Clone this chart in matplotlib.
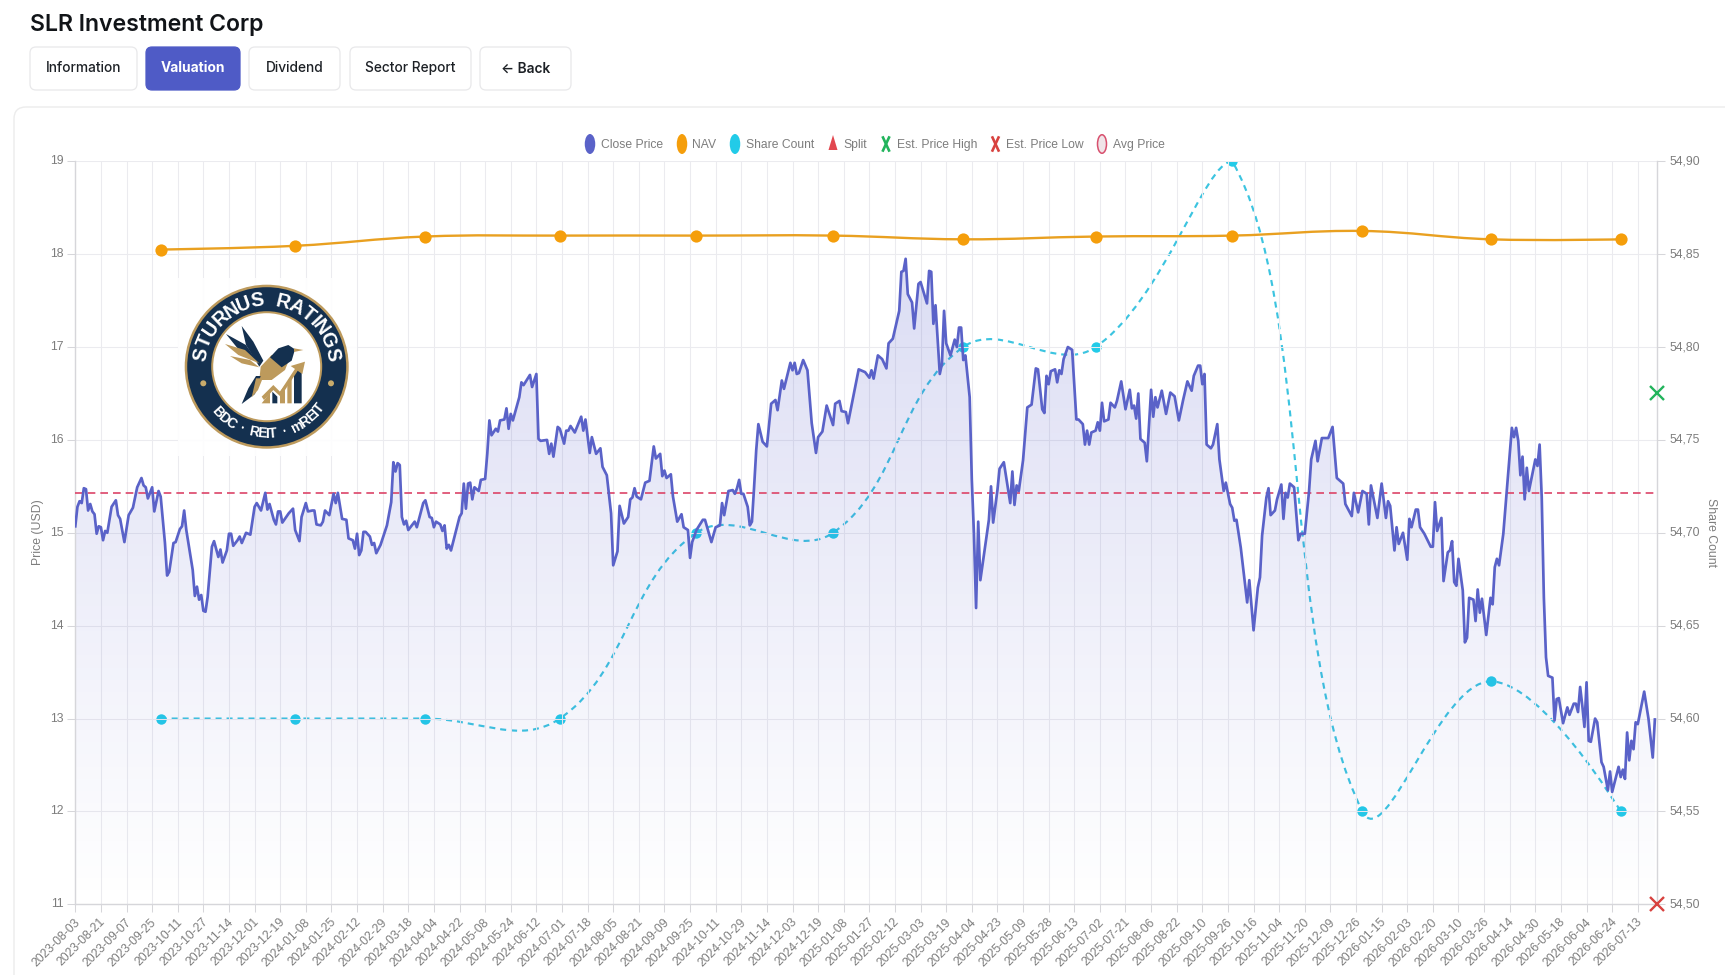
import matplotlib
matplotlib.use("Agg")
import matplotlib.pyplot as plt
import numpy as np
from matplotlib.patches import Circle, Ellipse, FancyBboxPatch, PathPatch, Polygon, Rectangle
from matplotlib.path import Path
from matplotlib.textpath import TextPath
from matplotlib.font_manager import FontProperties
from matplotlib.transforms import ScaledTranslation

# --- Data ---
tick_labels = [
    "2023-08-03", "2023-08-21", "2023-09-07", "2023-09-25", "2023-10-11", "2023-10-27", "2023-11-14",
    "2023-12-01", "2023-12-19", "2024-01-08", "2024-01-25", "2024-02-12", "2024-02-29", "2024-03-18",
    "2024-04-04", "2024-04-22", "2024-05-08", "2024-05-24", "2024-06-12", "2024-07-01", "2024-07-18",
    "2024-08-05", "2024-08-21", "2024-09-09", "2024-09-25", "2024-10-11", "2024-10-29", "2024-11-14",
    "2024-12-03", "2024-12-19", "2025-01-08", "2025-01-27", "2025-02-12", "2025-03-03", "2025-03-19",
    "2025-04-04", "2025-04-23", "2025-05-09", "2025-05-28", "2025-06-13", "2025-07-02", "2025-07-21",
    "2025-08-06", "2025-08-22", "2025-09-10", "2025-09-26", "2025-10-16", "2025-11-04", "2025-11-20",
    "2025-12-09", "2025-12-26", "2026-01-15", "2026-02-03", "2026-02-20", "2026-03-10", "2026-03-26",
    "2026-04-14", "2026-04-30", "2026-05-18", "2026-06-04", "2026-06-24", "2026-07-13",
]
sessions_per_tick = 12
last_session = 741

# close price as (session, value) pairs
close_a = [
    (0, 15.07), (1, 15.28), (2, 15.34), (3, 15.32), (4, 15.48), (5, 15.47), (6, 15.24), (7, 15.31), (8, 15.23),
    (9, 15.20), (10, 14.99), (11, 15.07), (12, 15.06), (13, 14.92), (14, 15.02), (15, 15.00), (17, 15.28),
    (19, 15.35), (20, 15.19), (21, 15.15), (23, 14.90), (25, 15.19), (27, 15.27), (29, 15.49), (31, 15.59),
    (32, 15.51), (33, 15.49), (34, 15.37), (36, 15.49), (37, 15.23), (39, 15.45), (40, 15.39), (42, 14.89),
    (43, 14.54), (44, 14.58), (46, 14.89), (47, 14.90), (49, 15.04), (50, 15.07), (51, 15.24), (52, 15.03),
    (55, 14.60), (56, 14.32), (57, 14.42), (58, 14.28), (59, 14.33), (60, 14.16), (61, 14.15), (62, 14.31),
    (64, 14.85), (65, 14.91), (67, 14.74), (68, 14.82), (69, 14.68), (71, 14.81), (72, 14.99), (73, 14.99),
    (74, 14.86), (76, 14.92), (77, 14.96), (78, 14.89), (80, 15.00), (82, 14.98), (84, 15.28), (85, 15.32),
    (87, 15.24), (89, 15.43), (90, 15.25), (91, 15.31), (93, 15.14), (94, 15.09), (95, 15.23), (96, 15.23),
    (97, 15.11), (100, 15.21), (102, 15.26), (103, 15.03), (105, 14.91), (106, 15.17), (108, 15.32), (109, 15.23),
    (111, 15.24), (112, 15.24), (113, 15.09), (115, 15.08), (116, 15.12), (117, 15.24), (119, 15.19), (121, 15.42),
    (122, 15.32), (123, 15.43), (125, 15.15), (127, 15.14), (128, 14.94), (130, 14.92), (131, 14.83), (132, 14.99),
    (133, 14.76), (134, 14.81), (135, 15.01), (136, 15.01), (138, 14.96), (139, 14.87), (140, 14.89), (141, 14.78),
    (143, 14.87), (146, 15.08), (148, 15.33), (149, 15.76), (150, 15.66), (151, 15.75), (152, 15.73), (153, 15.17),
    (154, 15.09), (155, 15.13), (156, 15.03), (159, 15.12), (160, 15.06), (163, 15.32), (164, 15.35), (166, 15.17),
    (167, 15.16), (168, 15.06), (169, 15.12), (171, 15.09), (172, 15.02), (173, 15.08), (174, 14.83), (175, 14.87),
    (176, 14.81), (178, 14.99), (180, 15.17), (181, 15.21), (182, 15.53), (183, 15.26), (184, 15.53), (185, 15.54),
    (186, 15.36), (187, 15.49), (189, 15.45), (190, 15.57), (192, 15.58), (193, 15.85), (194, 16.21), (195, 16.05),
    (197, 16.12), (198, 16.09), (199, 16.21), (201, 16.22), (202, 16.34), (203, 16.12), (204, 16.28), (205, 16.21),
    (208, 16.46), (209, 16.62), (210, 16.59), (213, 16.70), (214, 16.57), (216, 16.71), (217, 16.01), (218, 15.99),
    (221, 16.00), (222, 15.85), (223, 15.96), (224, 15.82), (226, 16.14), (227, 16.12),
]
close_b = [
    (229, 15.96), (230, 16.10), (231, 16.10), (232, 16.15), (234, 16.08), (237, 16.25), (238, 16.10), (239, 16.22),
    (241, 15.86), (242, 16.03), (244, 15.85), (246, 15.91), (247, 15.71), (249, 15.62), (251, 15.21), (252, 14.65),
    (254, 14.80), (255, 15.29), (257, 15.10), (259, 15.17), (260, 15.36), (261, 15.38), (262, 15.48), (263, 15.39),
    (265, 15.36), (267, 15.54), (269, 15.56), (271, 15.93), (272, 15.80), (274, 15.85), (275, 15.61), (276, 15.67),
    (277, 15.59), (279, 15.63), (280, 15.39), (282, 15.12), (284, 15.20), (285, 15.06), (287, 15.03), (288, 14.73),
    (289, 14.90), (291, 15.03), (294, 15.14), (295, 15.14), (298, 14.90), (300, 15.06), (302, 15.08), (303, 15.32),
    (304, 15.19), (306, 15.45), (308, 15.46), (309, 15.42), (310, 15.48), (311, 15.57), (312, 15.42), (313, 15.42),
    (315, 15.28), (316, 15.08), (317, 15.12), (318, 15.49), (319, 15.89), (320, 16.17), (322, 15.98), (324, 15.93),
    (326, 16.39), (328, 16.43), (329, 16.32), (331, 16.64), (332, 16.55), (335, 16.83), (336, 16.75), (337, 16.83),
    (338, 16.71), (339, 16.72), (341, 16.86), (343, 16.75), (345, 16.18), (347, 15.86), (348, 16.03), (350, 16.09),
    (352, 16.37), (355, 16.16), (356, 16.39), (358, 16.42), (359, 16.31), (361, 16.30), (362, 16.18), (367, 16.76),
    (370, 16.73), (372, 16.67), (373, 16.75), (374, 16.66), (376, 16.91), (378, 16.87), (380, 16.77), (381, 17.04),
    (383, 17.09), (386, 17.39), (387, 17.81), (388, 17.82), (389, 17.95), (390, 17.57), (392, 17.48), (393, 17.20),
    (395, 17.68), (396, 17.70), (399, 17.47), (400, 17.82), (401, 17.81), (402, 17.25), (403, 17.45), (405, 16.71),
    (406, 16.82), (407, 17.39), (408, 17.04), (410, 16.91), (412, 17.08), (413, 17.00), (414, 17.21), (415, 17.21),
    (416, 16.86), (417, 16.91), (419, 16.46), (420, 15.57), (421, 14.99), (422, 14.19), (423, 15.12), (424, 14.49),
    (428, 15.14), (429, 15.50), (430, 15.11), (432, 15.46), (433, 15.69), (435, 15.76), (438, 15.32), (439, 15.66),
    (440, 15.30), (441, 15.51), (442, 15.45), (444, 15.78), (446, 16.35), (448, 16.38), (450, 16.77), (451, 16.76),
]
close_c = [
    (453, 16.33), (454, 16.29), (455, 16.69), (456, 16.60), (457, 16.74), (459, 16.76), (460, 16.62), (461, 16.75),
    (462, 16.71), (463, 16.87), (465, 17.00), (467, 16.97), (469, 16.22), (470, 16.22), (472, 16.17), (473, 15.95),
    (474, 16.10), (475, 15.95), (476, 16.08), (478, 16.10), (479, 16.19), (480, 16.10), (481, 16.40), (482, 16.20),
    (484, 16.22), (485, 16.40), (487, 16.35), (488, 16.42), (490, 16.63), (492, 16.33), (494, 16.54), (495, 16.34),
    (496, 16.37), (497, 16.23), (498, 16.50), (499, 16.01), (501, 15.97), (502, 15.77), (504, 16.54), (505, 16.25),
    (506, 16.46), (507, 16.35), (509, 16.53), (511, 16.28), (513, 16.51), (515, 16.47), (517, 16.21), (519, 16.43),
    (521, 16.63), (523, 16.53), (524, 16.69), (526, 16.80), (527, 16.80), (528, 16.60), (529, 16.71), (530, 15.95),
    (532, 15.91), (533, 15.95), (535, 16.17), (536, 15.79), (538, 15.45), (539, 15.54), (541, 15.31), (542, 15.27),
    (543, 15.13), (544, 15.14), (546, 14.84), (549, 14.25), (550, 14.49), (552, 13.95), (554, 14.41), (555, 14.52),
    (556, 14.97), (558, 15.38), (559, 15.48), (560, 15.19), (562, 15.24), (563, 15.36), (565, 15.52), (566, 15.15),
    (567, 15.43), (568, 15.38), (569, 15.53), (571, 15.49), (573, 14.92), (574, 14.99), (576, 14.99), (578, 15.45),
    (579, 15.79), (581, 15.99), (582, 15.77), (584, 16.02), (587, 16.02), (589, 16.14), (591, 15.59), (594, 15.53),
    (595, 15.31), (598, 15.18), (599, 15.43), (601, 15.22), (603, 15.45), (605, 15.42), (606, 15.09), (607, 15.51),
    (610, 15.16), (612, 15.53), (614, 15.16), (615, 15.34), (616, 15.29), (618, 14.81), (619, 15.06), (620, 14.88),
    (622, 15.00), (624, 14.71), (625, 15.15), (626, 15.06), (628, 15.25), (629, 15.25), (630, 15.06), (632, 14.99),
    (635, 14.85), (636, 14.85), (637, 15.33), (638, 15.02), (640, 15.16), (641, 14.48), (643, 14.79), (644, 14.81),
    (645, 14.91), (646, 14.47), (647, 14.43), (648, 14.72), (650, 14.38), (651, 13.82), (652, 13.87), (653, 14.30),
    (655, 14.28), (656, 14.05), (657, 14.39), (658, 14.14), (659, 14.29), (661, 13.90), (663, 14.30), (664, 14.23),
    (665, 14.63), (666, 14.72), (667, 14.65), (669, 14.99), (671, 15.56), (673, 16.13), (674, 16.03), (675, 16.13),
    (676, 15.99), (677, 15.62), (678, 15.82), (679, 15.36), (680, 15.70), (681, 15.45), (684, 15.79), (685, 15.72),
    (686, 15.95), (687, 15.38), (688, 14.30), (689, 13.66), (690, 13.46), (692, 13.44), (693, 12.98), (694, 13.21),
    (695, 13.22), (697, 12.95), (699, 13.12), (700, 13.04), (702, 13.16), (703, 13.16), (704, 13.07), (705, 13.34),
    (706, 13.14), (707, 12.91), (708, 13.39), (709, 12.76), (710, 12.75), (712, 13.00), (713, 12.96), (715, 12.53),
    (716, 12.48), (718, 12.23), (719, 12.43), (720, 12.21), (723, 12.48), (724, 12.37), (725, 12.45), (726, 12.35),
    (727, 12.85), (728, 12.55), (729, 12.76), (730, 12.67), (731, 12.96), (732, 12.94), (735, 13.29), (737, 13.00),
    (739, 12.58), (740, 12.99),
]

report_sessions = [40, 103, 164, 227, 291, 355, 416, 478, 542, 603, 663, 724]
nav_values = [18.05, 18.09, 18.19, 18.20, 18.20, 18.20, 18.16, 18.19, 18.20, 18.25, 18.16, 18.16]
share_values = [54.60, 54.60, 54.60, 54.60, 54.70, 54.70, 54.80, 54.80, 54.90, 54.55, 54.62, 54.55]
avg_price = 15.43
est_high = 16.50
est_low = 11.00

price_ticks = [11, 12, 13, 14, 15, 16, 17, 18, 19]
share_ticks = [54.50, 54.55, 54.60, 54.65, 54.70, 54.75, 54.80, 54.85, 54.90]

INDIGO = "#5a62c8"
ORANGE = "#f59e0b"
CYAN = "#22cbe8"
GRID = "#ebebef"
AXIS = "#d6d6da"
TEXT = "#7d7d7d"
SANS = "Liberation Sans"
W, H = 1725, 975


def chartjs_curve(ax, xs, ys, tension=0.4):
    # same control points chart.js uses for its bezier lines, worked out in pixels
    pts = ax.transData.transform(np.column_stack([xs, ys]))
    box = ax.get_window_extent()
    n = len(pts)
    verts = [pts[0]]
    codes = [Path.MOVETO]
    for i in range(n - 1):
        c1 = pts[i]
        c2 = pts[i + 1]
        if i > 0:
            d0 = np.linalg.norm(pts[i] - pts[i - 1])
            d1 = np.linalg.norm(pts[i + 1] - pts[i])
            c1 = pts[i] + tension * d1 / (d0 + d1) * (pts[i + 1] - pts[i - 1])
        if i < n - 2:
            d0 = np.linalg.norm(pts[i + 1] - pts[i])
            d1 = np.linalg.norm(pts[i + 2] - pts[i + 1])
            c2 = pts[i + 1] - tension * d0 / (d0 + d1) * (pts[i + 2] - pts[i])
        # capBezierPoints keeps control points inside the chart area
        c1 = np.array([c1[0], np.clip(c1[1], box.y0, box.y1)])
        c2 = np.array([c2[0], np.clip(c2[1], box.y0, box.y1)])
        verts += [c1, c2, pts[i + 1]]
        codes += [Path.CURVE4] * 3
    return Path(ax.transData.inverted().transform(np.array(verts)), codes)


fig = plt.figure(figsize=(W / 100, H / 100), dpi=100, facecolor="white")

# --- Chart axes ---
ax = fig.add_axes([75.3 / W, (H - 904.3) / H, (1657 - 75.3) / W, (904.3 - 161.3) / H])
ax2 = ax.twinx()
ax.set_zorder(ax2.get_zorder() + 1)
ax.patch.set_visible(False)

ax.set_xlim(0, last_session)
ax.set_ylim(price_ticks[0], price_ticks[-1])
ax2.set_ylim(share_ticks[0], share_ticks[-1])

ax.set_xticks(np.arange(len(tick_labels)) * sessions_per_tick)
ax.set_xticklabels(tick_labels, rotation=45, ha="right", va="top", rotation_mode="anchor",
                   family=SANS, fontsize=8.75, color=TEXT)
ax.set_yticks(price_ticks)
ax.set_yticklabels([str(v) for v in price_ticks], family=SANS, fontsize=8.8, color=TEXT)
ax2.set_yticks(share_ticks)
ax2.set_yticklabels([f"{v:.2f}".replace(".", ",") for v in share_ticks], family=SANS, fontsize=8.8, color=TEXT)

ax.grid(True, color=GRID, linewidth=0.75)
ax.set_axisbelow(True)
ax.tick_params(axis="x", length=5.5, width=0.75, color=AXIS, pad=3)
ax.tick_params(axis="y", length=5.5, width=0.75, color=AXIS, pad=3)
ax2.tick_params(axis="y", length=5.5, width=0.75, color=AXIS, pad=3.5)

# tick labels sit a little off where matplotlib puts them
up = ScaledTranslation(0, 1.5 / 100, fig.dpi_scale_trans)
for lab in ax.get_yticklabels() + ax2.get_yticklabels():
    lab.set_transform(lab.get_transform() + up)
left = ScaledTranslation(-1.5 / 100, 0, fig.dpi_scale_trans)
for lab in ax.get_xticklabels():
    lab.set_transform(lab.get_transform() + left)

ax.spines["top"].set_visible(False)
for side in ["top", "left", "right", "bottom"]:
    ax2.spines[side].set_visible(False)
for side in ["left", "right", "bottom"]:
    ax.spines[side].set_color(AXIS)
    ax.spines[side].set_linewidth(1.0)

fig.text(38.5 / W, 1 - 532 / H, "Price (USD)", rotation=90, ha="center", va="center",
         family=SANS, fontsize=8.8, color=TEXT)
fig.text(1711 / W, 1 - 532 / H, "Share Count", rotation=270, ha="center", va="center",
         family=SANS, fontsize=8.8, color=TEXT)

# --- Close price with gradient fill ---
close_pairs = close_a + close_b + close_c
close_x = [p[0] for p in close_pairs]
close_y = [p[1] for p in close_pairs]

grad = np.zeros((256, 1, 4))
grad[..., 0], grad[..., 1], grad[..., 2] = 0.32, 0.345, 0.785
grad[:, 0, 3] = np.linspace(0.235, 0.0, 256)
im = ax.imshow(grad, extent=[0, last_session, 11, 19], aspect="auto", origin="upper", zorder=1.5)
clip = Polygon(list(zip(close_x, close_y)) + [(close_x[-1], 11), (close_x[0], 11)], transform=ax.transData)
im.set_clip_path(clip)
ax.set_xlim(0, last_session)
ax.set_ylim(price_ticks[0], price_ticks[-1])

ax.plot(close_x, close_y, color=INDIGO, linewidth=1.95, solid_joinstyle="round", zorder=4)

# avg price line
ax.plot([0, last_session], [avg_price, avg_price], color="#dc4468", linewidth=1.2,
        linestyle=(0, (4.6, 3.0)), zorder=3)

# --- NAV and share count (curved lines, markers on the report dates) ---
ax.add_patch(PathPatch(chartjs_curve(ax, report_sessions, nav_values), fill=False, edgecolor="#e9a020",
                       linewidth=1.7, zorder=5))
ax.plot(report_sessions, nav_values, linestyle="none", marker="o", markersize=8.8, color=ORANGE,
        markeredgecolor="none", zorder=6)

ax2.add_patch(PathPatch(chartjs_curve(ax2, report_sessions, share_values), fill=False, edgecolor="#3cc4e0",
                        linewidth=1.55, linestyle=(0, (2.8, 2.3)), zorder=2))
ax2.plot(report_sessions, share_values, linestyle="none", marker="o", markersize=7.5, color=CYAN,
         markeredgecolor="none", zorder=3)

# est. price markers sit on the right edge
ax.plot([last_session], [est_high], marker="x", markersize=10.5, markeredgewidth=1.7, color="#22b45c",
        clip_on=False, zorder=7)
ax.plot([last_session], [est_low], marker="x", markersize=10.5, markeredgewidth=1.7, color="#d8423f",
        clip_on=False, zorder=7)

# --- Page furniture, in pixel coordinates ---
ui = fig.add_axes([0, 0, 1, 1], zorder=10)
ui.set_xlim(0, W)
ui.set_ylim(H, 0)
ui.axis("off")
ui.patch.set_visible(False)

ui.text(29.5, 31, "SLR Investment Corp", family="Inter", fontsize=16.6, fontweight="semibold",
        color="#111418", va="baseline")

# card outline
ui.add_patch(FancyBboxPatch((14, 107), W + 40, H + 40, boxstyle="round,pad=0,rounding_size=12",
                            facecolor="none", edgecolor="#ececec", linewidth=1.0))

buttons = [("Information", 30, 137), ("Valuation", 146, 240), ("Dividend", 249, 340),
           ("Sector Report", 350, 471), ("← Back", 480, 571)]
for label, x0, x1 in buttons:
    active = label == "Valuation"
    back = label == "← Back"
    ui.add_patch(FancyBboxPatch((x0, 47), x1 - x0, 43, boxstyle="round,pad=0,rounding_size=6",
                                facecolor="#4f5bc6" if active else "white",
                                edgecolor="#4f5bc6" if active else "#e8e8ea", linewidth=0.9))
    ui.text((x0 + x1) / 2, 73 if back else 72.3, label, family=["Inter", "DejaVu Sans"], fontsize=9.9,
            fontweight="bold" if active else ("semibold" if back else "medium"),
            color="white" if active else "#1d2126", ha="center", va="baseline")

# --- Legend ---
LEG_Y = 144
legend_labels = [("Close Price", 601), ("NAV", 692), ("Share Count", 745.5), ("Split", 843),
                 ("Est. Price High", 897), ("Est. Price Low", 1006), ("Avg Price", 1113)]
for label, x in legend_labels:
    ui.text(x, LEG_Y + 4.2, label, family=SANS, fontsize=8.7, color=TEXT, va="baseline")
ui.add_patch(Ellipse((590, LEG_Y), 10.5, 20, facecolor=INDIGO, edgecolor="none"))
ui.add_patch(Ellipse((682, LEG_Y), 10.5, 20, facecolor=ORANGE, edgecolor="none"))
ui.add_patch(Ellipse((735, LEG_Y), 10.5, 20, facecolor=CYAN, edgecolor="none"))
ui.add_patch(Polygon([(833, 135), (828.5, 150), (837.5, 150)], facecolor="#e2474f", edgecolor="none"))
for cx, col in [(886, "#22b45c"), (995.5, "#d8423f")]:
    ui.plot([cx - 3, cx + 3], [LEG_Y - 6.5, LEG_Y + 6.5], color=col, linewidth=1.9)
    ui.plot([cx - 3, cx + 3], [LEG_Y + 6.5, LEG_Y - 6.5], color=col, linewidth=1.9)
ui.add_patch(Ellipse((1102, LEG_Y), 9, 18.5, facecolor="#f0e4e8", edgecolor="#d8506e", linewidth=1.1))

# --- Sturnus Ratings badge ---
CX, CY = 266.7, 366.7
NAVY = "#14304f"
GOLD = "#bd9a5c"
ui.add_patch(Rectangle((178, 278), 179, 178, facecolor="white", edgecolor="none", alpha=0.88))
ui.add_patch(Circle((CX, CY), 82, facecolor=GOLD, edgecolor="none"))
ui.add_patch(Circle((CX, CY), 79.5, facecolor=NAVY, edgecolor="none"))
ui.add_patch(Circle((CX, CY), 55.5, facecolor=GOLD, edgecolor="none"))
ui.add_patch(Circle((CX, CY), 53.5, facecolor="white", edgecolor="none"))
ui.add_patch(Circle((203.3, 383.3), 3, facecolor="#c9ab6b", edgecolor="none"))
ui.add_patch(Circle((331, 383.3), 3, facecolor="#c9ab6b", edgecolor="none"))


def arc_text(text, start, end, radius, size, top=True):
    fp = FontProperties(family=SANS, weight="bold")
    widths = [TextPath((0, 0), c if c != " " else "n", size=10, prop=fp).get_extents().width + 0.9 for c in text]
    edges = np.cumsum([0] + widths)
    for i, c in enumerate(text):
        frac = (edges[i] + widths[i] / 2) / edges[-1]
        ang = start + (end - start) * frac
        x = CX + radius * np.cos(np.radians(ang))
        y = CY - radius * np.sin(np.radians(ang))
        rot = ang - 90 if top else ang + 90
        ui.text(x, y, c, family=SANS, fontweight="bold", fontsize=size, color="white",
                rotation=rot, rotation_mode="anchor", ha="center", va="center")


arc_text("STURNUS RATINGS", 175, 5, 66.5, 14.2, top=True)
arc_text("BDC · REIT · mREIT", 219, 325, 67, 10, top=False)


def badge_shape(points, color):
    # badge artwork traced on a 570 px crop of the logo
    ui.add_patch(Polygon([(170 + x / 3, 270 + y / 3) for x, y in points], facecolor=color, edgecolor="none"))


badge_shape([(215, 168), (250, 215), (280, 272), (268, 290), (228, 225)], NAVY)
badge_shape([(168, 192), (228, 225), (262, 275), (215, 250)], NAVY)
badge_shape([(165, 222), (225, 240), (268, 280), (205, 255)], GOLD)
badge_shape([(180, 258), (240, 270), (268, 292), (215, 280)], GOLD)
badge_shape([(272, 290), (305, 255), (335, 265), (362, 258), (345, 300), (305, 330), (268, 330)], GOLD)
badge_shape([(300, 262), (325, 235), (355, 225), (375, 238), (365, 272), (335, 292)], NAVY)
badge_shape([(372, 235), (400, 240), (372, 246)], GOLD)
badge_shape([(258, 318), (272, 318), (255, 372), (215, 402), (235, 355)], NAVY)
badge_shape([(258, 325), (278, 325), (264, 360), (245, 382)], GOLD)
badge_shape([(275, 400), (300, 368), (300, 400)], GOLD)
badge_shape([(307, 400), (307, 365), (322, 380), (322, 400)], NAVY)
badge_shape([(330, 400), (330, 365), (345, 345), (345, 400)], GOLD)
badge_shape([(352, 400), (352, 335), (365, 318), (365, 400)], GOLD)
badge_shape([(372, 400), (372, 310), (395, 285), (395, 400)], NAVY)
badge_shape([(275, 380), (310, 345), (330, 365), (378, 292), (386, 298), (332, 380), (310, 360), (282, 390)], GOLD)
badge_shape([(362, 288), (405, 275), (397, 312)], GOLD)

fig.savefig("out.png", dpi=100, facecolor="white")
